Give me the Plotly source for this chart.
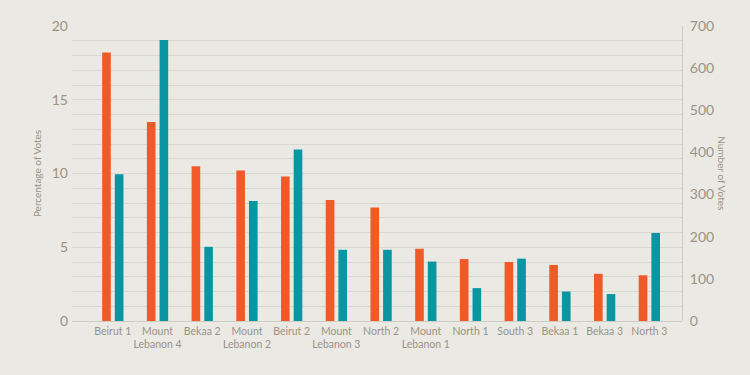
import plotly.graph_objects as go

districts = ["Beirut 1", "Mount<br>Lebanon 4", "Bekaa 2", "Mount<br>Lebanon 2", "Beirut 2",
             "Mount<br>Lebanon 3", "North 2", "Mount<br>Lebanon 1", "North 1", "South 3",
             "Bekaa 1", "Bekaa 3", "North 3"]
pct_votes = [18.2, 13.5, 10.5, 10.2, 9.8, 8.2, 7.7, 4.9, 4.2, 4.0, 3.8, 3.2, 3.1]
num_votes = [348, 667, 176, 285, 407, 169, 169, 141, 78, 148, 70, 64, 209]

left_ticks = [0, 5, 10, 15, 20]
right_ticks = [0, 100, 200, 300, 400, 500, 600, 700]

BG = "#ebe9e3"
TXT = "#9a9385"
GRID = "#dad7d0"
ORANGE = "#f05a28"
TEAL = "#0a95a3"

fig = go.Figure()
fig.add_trace(go.Bar(x=districts, y=pct_votes, name="Percentage of Votes",
                     marker=dict(color=ORANGE, line=dict(width=0)),
                     width=0.193, offset=-0.238, yaxis="y"))
fig.add_trace(go.Bar(x=districts, y=num_votes, name="Number of Votes",
                     marker=dict(color=TEAL, line=dict(width=0)),
                     width=0.193, offset=0.045, yaxis="y2"))

fig.update_layout(
    width=750, height=375,
    margin=dict(l=72, r=68, t=26, b=54),
    paper_bgcolor=BG, plot_bgcolor=BG,
    showlegend=False,
    font=dict(family="Lato", color=TXT),
    xaxis=dict(
        type="category", range=[-0.913, 12.73],
        showgrid=False, zeroline=False, showline=False, ticks="",
        tickfont=dict(size=10.5, color=TXT), fixedrange=True,
        ticklabelstandoff=2,
    ),
    yaxis=dict(
        range=[0, 20], tickvals=left_ticks, ticktext=[str(v) for v in left_ticks],
        showgrid=True, gridcolor=GRID, gridwidth=1,
        minor=dict(dtick=1, showgrid=True, gridcolor=GRID, gridwidth=1),
        zeroline=True, zerolinecolor="#cfccc4", zerolinewidth=1,
        showline=False, ticks="", tickfont=dict(size=14, color=TXT),
        ticklabelstandoff=3,
    ),
    yaxis2=dict(
        range=[0, 700], tickvals=right_ticks, ticktext=[str(v) for v in right_ticks],
        overlaying="y", side="right", showgrid=False, zeroline=False,
        showline=True, linecolor="#cdcac2", linewidth=1,
        ticks="", tickfont=dict(size=14, color=TXT), ticklabelstandoff=4,
    ),
    annotations=[
        dict(text="Percentage of Votes", xref="paper", yref="paper",
             x=-0.058, y=0.5, xanchor="center", yanchor="middle",
             textangle=-90, showarrow=False, font=dict(size=10, color=TXT)),
        dict(text="Number of Votes", xref="paper", yref="paper",
             x=1.066, y=0.5, xanchor="center", yanchor="middle",
             textangle=90, showarrow=False, font=dict(size=10, color=TXT)),
    ],
)

fig.write_html("out.html", config={"displayModeBar": False},
               post_script="document.body.style.margin='0';document.body.style.background='#ebe9e3';")
